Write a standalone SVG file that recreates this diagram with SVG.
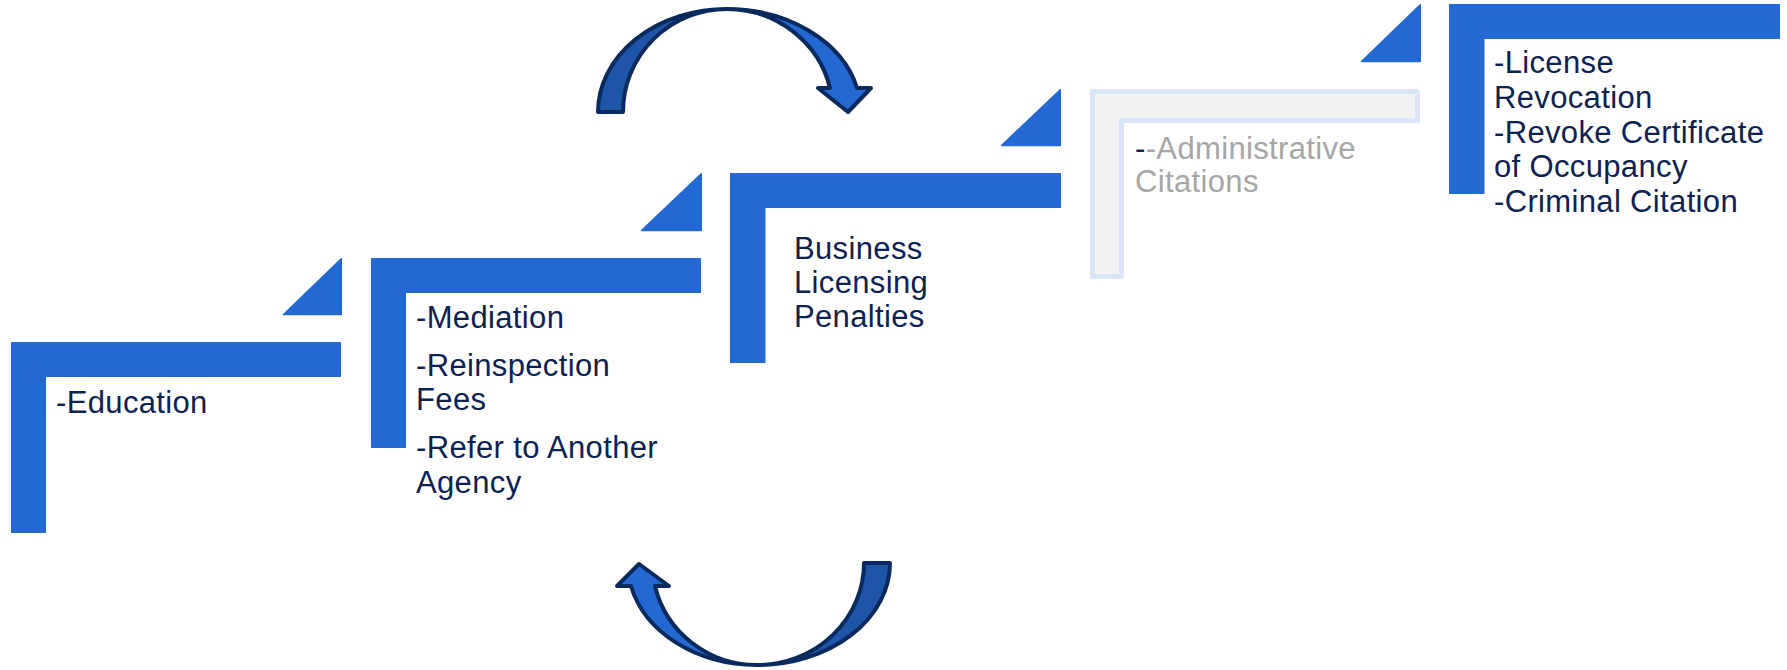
<svg xmlns="http://www.w3.org/2000/svg" width="1787" height="670" viewBox="0 0 1787 670">
<style>
.blk{fill:#2468D3;stroke:#2468D3;stroke-width:1.5;stroke-linejoin:round}
.gry{fill:#F2F2F2;stroke:#DAE5FA;stroke-width:5;stroke-linejoin:round}
.t{font-family:"Liberation Sans",Arial,sans-serif;font-size:31px;letter-spacing:0.35px;fill:#0D2152}
.g{fill:#A6A6A6}
.arrD{fill:#1F55A8;stroke:#0A2A5E;stroke-width:4;stroke-linejoin:round}
.arrL{fill:#2468D3;stroke:#0A2A5E;stroke-width:4;stroke-linejoin:round}
</style>
<rect width="1787" height="670" fill="#FFFFFF"/>
<g id="step1">
<path class="blk" d="M11.75,342.75 H340.25 V376.25 H45.25 V532.25 H11.75 Z"/>
<text class="t" x="56" y="413">-Education</text>
</g>
<g id="tri1"><path class="blk" d="M283.5,314.5 L341.25,258.75 V314.5 Z"/></g>
<g id="step2">
<path class="blk" d="M371.75,258.75 H700.25 V292.25 H405.25 V447.25 H371.75 Z"/>
<text class="t" x="416" y="328">-Mediation</text>
<text class="t" x="416" y="376">-Reinspection</text>
<text class="t" x="416" y="410">Fees</text>
<text class="t" x="416" y="458">-Refer to Another</text>
<text class="t" x="416" y="493">Agency</text>
</g>
<g id="tri2"><path class="blk" d="M641.5,230.5 L701.25,173.75 V230.5 Z"/></g>
<g id="step3">
<path class="blk" d="M730.75,173.75 H1060.25 V207.25 H764.75 V362.25 H730.75 Z"/>
<text class="t" x="794" y="259">Business</text>
<text class="t" x="794" y="293">Licensing</text>
<text class="t" x="794" y="327">Penalties</text>
</g>
<g id="tri3"><path class="blk" d="M1001.5,145.5 L1060.25,89.75 V145.5 Z"/></g>
<g id="step4">
<path class="gry" d="M1092.5,91.5 H1417.5 V120.5 H1121.5 V276.5 H1092.5 Z"/>
<text class="t" x="1135" y="159"><tspan>-</tspan><tspan class="g">-Administrative</tspan></text>
<text class="t g" x="1135" y="192">Citations</text>
</g>
<g id="tri4"><path class="blk" d="M1361.5,61.5 L1420.25,4.75 V61.5 Z"/></g>
<g id="step5">
<path class="blk" d="M1449.75,4.75 H1779.25 V38.25 H1483.75 V193.25 H1449.75 Z"/>
<text class="t" x="1494" y="73">-License</text>
<text class="t" x="1494" y="108">Revocation</text>
<text class="t" x="1494" y="143">-Revoke Certificate</text>
<text class="t" x="1494" y="177">of Occupancy</text>
<text class="t" x="1494" y="212">-Criminal Citation</text>
</g>
<g id="connectors">
<g id="arrow-top">
<path class="arrD" d="M598,112 A129,103 0 0 1 727,9 A104,103 0 0 0 623,112 Z"/>
<path class="arrL" d="M727,9 A134,103 0 0 1 857,88 L871,88 L848,112 L818,88 L830,88 A106,103 0 0 0 727,9 Z"/>
</g>
<g id="arrow-bottom">
<path class="arrD" d="M864,563 L890,563 A133,102 0 0 1 757,665 A107,102 0 0 0 864,563 Z"/>
<path class="arrL" d="M757,665 A129,102 0 0 1 631,586 L617,586 L639,564 L669,586 L655,586 A105,102 0 0 0 757,665 Z"/>
</g>
</g>
</svg>
